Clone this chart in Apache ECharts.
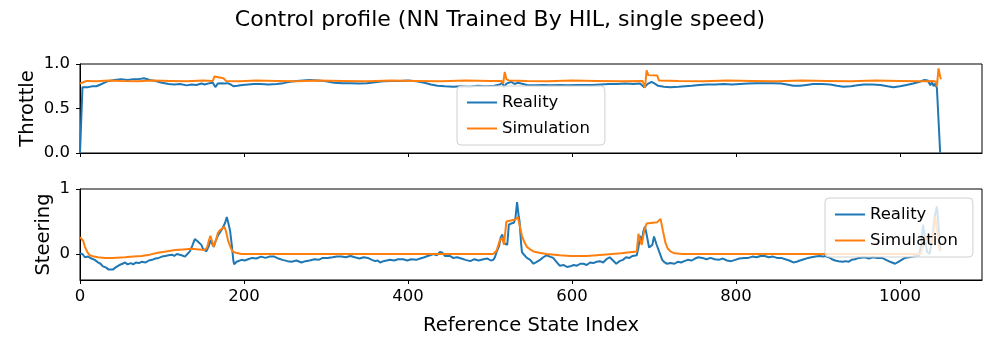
<!DOCTYPE html>
<html>
<head>
<meta charset="utf-8">
<script src="https://cdn.jsdelivr.net/npm/echarts@6/dist/echarts.min.js"></script>
<style>
  html, body { margin: 0; padding: 0; background: #fff; }
  #main { width: 1000px; height: 350px; }
</style>
</head>
<body>
<div id="main"></div>
<script>
// values, [reference state index, value]
var thrReal = [[0,0.0],[3,0.74],[5,0.76],[10,0.74],[15,0.75],[20,0.75],[25,0.77],[30,0.79],[35,0.81],[42,0.82],[50,0.83],[58,0.82],[65,0.83],[72,0.83],[78,0.84],[85,0.82],[92,0.81],[100,0.79],[108,0.775],[115,0.77],[122,0.775],[130,0.76],[136,0.77],[142,0.765],[148,0.78],[152,0.77],[158,0.785],[162,0.79],[165,0.74],[168,0.78],[172,0.785],[176,0.78],[180,0.785],[184,0.77],[187,0.75],[192,0.755],[198,0.765],[205,0.77],[212,0.775],[220,0.775],[230,0.77],[240,0.775],[248,0.785],[256,0.8],[264,0.81],[272,0.815],[280,0.82],[290,0.815],[300,0.805],[310,0.79],[320,0.785],[330,0.785],[340,0.78],[350,0.785],[360,0.795],[370,0.805],[380,0.81],[390,0.81],[400,0.815],[410,0.805],[420,0.79],[428,0.77],[436,0.755],[445,0.75],[455,0.745],[465,0.75],[475,0.745],[485,0.755],[495,0.75],[505,0.755],[512,0.77],[515,0.79],[517,0.74],[520,0.78],[526,0.8],[530,0.775],[534,0.79],[538,0.78],[545,0.765],[555,0.76],[565,0.765],[575,0.76],[585,0.765],[595,0.76],[605,0.765],[615,0.765],[625,0.765],[635,0.77],[645,0.775],[655,0.775],[665,0.78],[675,0.775],[683,0.78],[688,0.74],[690,0.73],[693,0.78],[697,0.8],[701,0.78],[705,0.755],[712,0.745],[720,0.74],[730,0.745],[738,0.75],[746,0.755],[755,0.765],[765,0.77],[775,0.77],[785,0.775],[795,0.77],[805,0.775],[815,0.78],[825,0.785],[835,0.785],[845,0.785],[855,0.78],[862,0.77],[870,0.755],[878,0.755],[886,0.765],[894,0.775],[905,0.775],[915,0.77],[923,0.755],[931,0.745],[940,0.75],[948,0.76],[956,0.77],[966,0.77],[976,0.765],[985,0.75],[992,0.74],[1000,0.75],[1008,0.765],[1016,0.78],[1024,0.8],[1030,0.82],[1034,0.815],[1037,0.76],[1039,0.8],[1041,0.75],[1043,0.78],[1045,0.73],[1049,0.0]];

var thrSim = [[0,0.78],[4,0.795],[8,0.81],[20,0.805],[35,0.815],[50,0.81],[70,0.805],[90,0.815],[110,0.81],[130,0.805],[150,0.815],[162,0.81],[164,0.86],[166,0.845],[175,0.84],[178,0.81],[195,0.805],[215,0.815],[240,0.81],[265,0.805],[290,0.815],[320,0.81],[350,0.805],[380,0.815],[410,0.81],[440,0.805],[470,0.815],[500,0.81],[514,0.81],[516,0.78],[518,0.91],[520,0.83],[523,0.815],[545,0.81],[570,0.805],[600,0.815],[630,0.81],[660,0.805],[686,0.81],[689,0.73],[691,0.93],[693,0.875],[704,0.87],[706,0.815],[730,0.81],[760,0.805],[790,0.815],[820,0.81],[850,0.805],[880,0.815],[910,0.81],[940,0.805],[970,0.815],[1000,0.81],[1030,0.805],[1040,0.81],[1044,0.8],[1045,0.75],[1047,0.95],[1049,0.86],[1050,0.83]];

var strReal = [[0,0.01],[3,0.0],[6,-0.05],[10,-0.04],[14,-0.07],[18,-0.09],[22,-0.13],[25,-0.15],[28,-0.19],[32,-0.21],[35,-0.24],[37,-0.26],[40,-0.24],[43,-0.21],[45,-0.19],[48,-0.17],[52,-0.15],[55,-0.13],[58,-0.16],[62,-0.14],[65,-0.16],[68,-0.13],[72,-0.14],[75,-0.12],[80,-0.13],[84,-0.1],[88,-0.09],[92,-0.07],[96,-0.06],[100,-0.04],[104,-0.03],[108,-0.02],[112,-0.01],[115,-0.03],[118,0.0],[120,0.01],[124,-0.02],[128,-0.04],[131,0.0],[134,0.04],[137,0.13],[140,0.23],[143,0.2],[145,0.21],[148,0.14],[150,0.08],[152,0.05],[154,0.04],[157,0.12],[159,0.21],[161,0.16],[163,0.11],[166,0.22],[168,0.28],[171,0.34],[174,0.4],[177,0.48],[179,0.57],[181,0.47],[183,0.36],[185,0.15],[187,-0.1],[188,-0.16],[191,-0.12],[193,-0.11],[197,-0.09],[201,-0.1],[205,-0.08],[210,-0.06],[215,-0.07],[221,-0.04],[226,-0.06],[231,-0.04],[237,-0.04],[242,-0.07],[247,-0.09],[253,-0.11],[258,-0.12],[264,-0.1],[270,-0.13],[275,-0.11],[280,-0.1],[286,-0.08],[291,-0.09],[296,-0.06],[302,-0.06],[308,-0.05],[313,-0.04],[319,-0.04],[324,-0.05],[330,-0.03],[335,-0.05],[341,-0.07],[346,-0.05],[351,-0.06],[356,-0.09],[360,-0.11],[363,-0.1],[366,-0.13],[370,-0.11],[374,-0.1],[378,-0.09],[383,-0.1],[388,-0.08],[394,-0.08],[399,-0.1],[404,-0.08],[410,-0.09],[415,-0.07],[420,-0.05],[424,-0.03],[427,-0.02],[431,0.0],[435,-0.02],[439,0.03],[442,0.02],[445,-0.03],[447,-0.04],[451,-0.03],[455,-0.06],[460,-0.05],[465,-0.07],[470,-0.09],[476,-0.11],[481,-0.08],[486,-0.1],[492,-0.08],[497,-0.07],[501,-0.1],[504,-0.09],[506,-0.05],[508,0.03],[511,0.12],[513,0.25],[515,0.3],[517,0.17],[519,0.16],[521,0.14],[523,0.45],[526,0.47],[529,0.48],[531,0.55],[533,0.8],[535,0.58],[536,0.51],[538,0.15],[539,0.03],[542,-0.02],[545,-0.06],[549,-0.09],[553,-0.15],[557,-0.12],[561,-0.09],[565,-0.05],[569,-0.02],[573,-0.04],[577,-0.06],[581,-0.12],[585,-0.18],[590,-0.17],[594,-0.2],[598,-0.19],[602,-0.17],[606,-0.18],[610,-0.15],[614,-0.15],[618,-0.17],[622,-0.13],[626,-0.14],[630,-0.12],[634,-0.11],[638,-0.13],[642,-0.08],[646,-0.05],[650,-0.1],[654,-0.15],[658,-0.11],[662,-0.09],[666,-0.05],[670,-0.06],[674,-0.03],[679,-0.02],[681,0.1],[683,0.28],[685,0.18],[687,0.35],[689,0.42],[691,0.3],[694,0.1],[696,0.12],[698,0.14],[700,0.27],[701,0.24],[703,0.15],[705,0.13],[708,-0.02],[710,-0.09],[713,-0.13],[716,-0.15],[720,-0.14],[725,-0.15],[729,-0.12],[733,-0.13],[737,-0.11],[741,-0.09],[746,-0.1],[750,-0.07],[754,-0.05],[759,-0.06],[764,-0.08],[769,-0.06],[774,-0.08],[779,-0.09],[784,-0.07],[789,-0.1],[794,-0.11],[799,-0.09],[804,-0.07],[810,-0.06],[815,-0.06],[820,-0.04],[825,-0.05],[830,-0.03],[835,-0.03],[840,-0.05],[845,-0.04],[850,-0.06],[855,-0.06],[860,-0.08],[865,-0.1],[870,-0.13],[874,-0.12],[878,-0.1],[883,-0.08],[888,-0.06],[892,-0.05],[897,-0.04],[902,-0.03],[906,-0.04],[909,-0.03],[913,-0.05],[917,-0.08],[921,-0.1],[925,-0.11],[930,-0.12],[934,-0.11],[937,-0.12],[941,-0.09],[945,-0.08],[950,-0.06],[957,-0.05],[962,-0.07],[967,-0.05],[972,-0.06],[978,-0.06],[983,-0.09],[988,-0.12],[994,-0.15],[998,-0.12],[1002,-0.09],[1006,-0.06],[1011,-0.05],[1016,-0.04],[1020,-0.03],[1023,-0.03],[1026,0.15],[1028,0.45],[1030,0.3],[1033,0.03],[1036,0.0],[1039,0.2],[1042,0.55],[1045,0.73],[1047,0.45],[1049,0.05]];

var strSim = [[0,0.26],[2,0.27],[4,0.2],[6,0.11],[9,0.03],[12,-0.02],[17,-0.04],[22,-0.05],[30,-0.06],[40,-0.06],[55,-0.05],[65,-0.04],[75,-0.03],[85,-0.01],[95,0.02],[105,0.04],[116,0.06],[126,0.07],[136,0.08],[145,0.07],[152,0.06],[155,0.1],[157,0.2],[159,0.28],[161,0.2],[163,0.11],[166,0.22],[168,0.32],[171,0.37],[173,0.4],[176,0.42],[178,0.35],[181,0.19],[184,0.09],[186,0.04],[190,0.02],[197,0.0],[504,0.0],[508,0.05],[512,0.21],[515,0.25],[517,0.14],[520,0.5],[531,0.53],[534,0.57],[536,0.45],[539,0.28],[542,0.18],[545,0.11],[549,0.07],[553,0.04],[560,0.02],[569,0.0],[585,-0.02],[598,-0.03],[618,-0.03],[638,-0.01],[660,0.01],[679,0.04],[681,0.31],[683,0.22],[685,0.14],[688,0.35],[691,0.47],[704,0.49],[708,0.54],[711,0.35],[714,0.17],[717,0.08],[720,0.04],[725,0.01],[735,0.0],[1025,0.0],[1029,0.15],[1031,0.27],[1035,0.2],[1039,0.18],[1043,0.57],[1046,0.3],[1048,0.1],[1050,0.05]];

var xTicks = [0, 200, 400, 600, 800, 1000];
var thrTicks = [0, 0.5, 1];
var strTicks = [0, 1];
var seriesNames = ['Reality', 'Simulation'];

var blue = '#1f77b4';
var orange = '#ff7f0e';
var font = 'DejaVu Sans';

function legendAt(left, top) {
    return {
        orient: 'vertical',
        left: left,
        top: top,
        data: seriesNames,
        icon: 'rect',
        itemWidth: 30,
        itemHeight: 2,
        itemGap: 9,
        padding: [8, 15, 8, 10],
        backgroundColor: 'rgba(255,255,255,0.8)',
        borderColor: '#d0d0d0',
        borderWidth: 1,
        borderRadius: 4,
        textStyle: { fontFamily: font, fontSize: 16.5, color: '#000' }
    };
}

function xAxisFor(idx, showLabels) {
    return {
        type: 'value',
        gridIndex: idx,
        min: 0,
        max: 1100,
        splitLine: { show: false },
        axisLine: { show: true, onZero: false, lineStyle: { color: '#000' } },
        axisTick: { show: true, length: 4, customValues: xTicks, lineStyle: { color: '#000' } },
        axisLabel: {
            show: showLabels, customValues: xTicks, fontFamily: font, fontSize: 16.5, color: '#000', margin: 8,
            formatter: function(v) { return String(v); }
        },
        name: showLabels ? 'Reference State Index' : '',
        nameLocation: 'middle',
        nameGap: 36,
        nameTextStyle: { fontFamily: font, fontSize: 19.5, color: '#000' }
    };
}

var chart = echarts.init(document.getElementById('main'));

var option = {
    animation: false,
    backgroundColor: '#fff',
    color: [blue, orange],
    title: {
        text: 'Control profile (NN Trained By HIL, single speed)',
        left: 'center',
        top: 4,
        textStyle: { fontFamily: font, fontSize: 22, fontWeight: 'normal', color: '#000' }
    },
    legend: [legendAt(457, 86), legendAt(825, 198)],
    grid: [
        { left: 80, right: 18, top: 64, height: 89, show: true, borderColor: '#000', borderWidth: 1 },
        { left: 80, right: 18, top: 189, height: 91, show: true, borderColor: '#000', borderWidth: 1 }
    ],
    xAxis: [xAxisFor(0, false), xAxisFor(1, true)],
    yAxis: [
        {
            type: 'value', gridIndex: 0, min: 0, max: 1,
            splitLine: { show: false },
            axisLine: { show: true, lineStyle: { color: '#000' } },
            axisTick: { show: true, length: 4, customValues: thrTicks, lineStyle: { color: '#000' } },
            axisLabel: {
                customValues: thrTicks, fontFamily: font, fontSize: 16.5, color: '#000', margin: 10,
                formatter: function(v) { return v.toFixed(1); }
            },
            name: 'Throttle', nameLocation: 'middle', nameGap: 42, nameRotate: 90, nameMoveOverlap: false,
            nameTextStyle: { fontFamily: font, fontSize: 19.5, color: '#000' }
        },
        {
            type: 'value', gridIndex: 1, min: -0.4, max: 1,
            splitLine: { show: false },
            axisLine: { show: true, lineStyle: { color: '#000' } },
            axisTick: { show: true, length: 4, customValues: strTicks, lineStyle: { color: '#000' } },
            axisLabel: { customValues: strTicks, fontFamily: font, fontSize: 16.5, color: '#000', margin: 10 },
            name: 'Steering', nameLocation: 'middle', nameGap: 26, nameRotate: 90, nameMoveOverlap: false,
            nameTextStyle: { fontFamily: font, fontSize: 19.5, color: '#000' }
        }
    ],
    series: [
        { name: 'Reality', type: 'line', xAxisIndex: 0, yAxisIndex: 0, data: thrReal, showSymbol: false, lineStyle: { width: 2, color: blue } },
        { name: 'Simulation', type: 'line', xAxisIndex: 0, yAxisIndex: 0, data: thrSim, showSymbol: false, lineStyle: { width: 2, color: orange } },
        { name: 'Reality', type: 'line', xAxisIndex: 1, yAxisIndex: 1, data: strReal, showSymbol: false, lineStyle: { width: 2, color: blue } },
        { name: 'Simulation', type: 'line', xAxisIndex: 1, yAxisIndex: 1, data: strSim, showSymbol: false, lineStyle: { width: 2, color: orange } }
    ]
};

chart.setOption(option);
</script>
</body>
</html>
